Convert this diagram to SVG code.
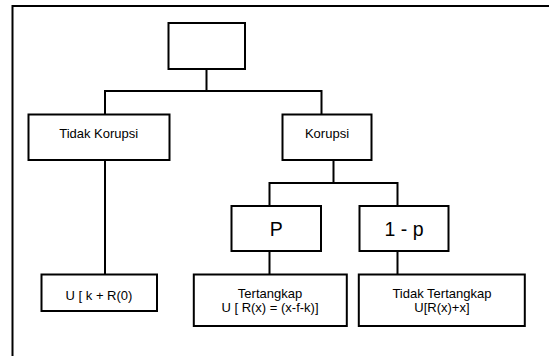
<svg xmlns="http://www.w3.org/2000/svg" width="549" height="356" viewBox="0 0 549 356">
<style>
.box{fill:#fff;stroke:#000;stroke-width:2}
.ln{fill:none;stroke:#000;stroke-width:2}
.t{font-family:"Liberation Sans",Arial,sans-serif;font-size:13px;fill:#000;text-anchor:middle}
.tb{font-family:"Liberation Sans",Arial,sans-serif;font-size:19.5px;fill:#000;text-anchor:middle}
</style>
<rect width="549" height="356" fill="#fff"/>
<path class="ln" d="M12.5,356 V6 H549"/>
<g id="connectors">
<path class="ln" d="M206.5,69 V91 M105,114.5 V91 H321.5 V114.5"/>
<path class="ln" d="M105,160 V274.5"/>
<path class="ln" d="M333.5,160 V183 M269.5,206 V183 H397.5 V206"/>
<path class="ln" d="M269.5,251 V274.5 M397.5,251 V274.5"/>
</g>
<g id="root"><rect class="box" x="168.5" y="23" width="76.5" height="46"/></g>
<g id="tidak-korupsi"><rect class="box" x="28.5" y="114.5" width="141" height="45.5"/><text class="t" x="98.7" y="137.5">Tidak Korupsi</text></g>
<g id="korupsi"><rect class="box" x="282.5" y="114.5" width="89" height="45.5"/><text class="t" x="327" y="137.5">Korupsi</text></g>
<g id="p"><rect class="box" x="231.5" y="206" width="89.5" height="45"/><text class="tb" x="276.3" y="236">P</text></g>
<g id="one-minus-p"><rect class="box" x="359.5" y="206" width="89" height="45"/><text class="tb" x="404" y="236">1 - p</text></g>
<g id="u-k"><rect class="box" x="41.5" y="274.5" width="115.5" height="36.5"/><text class="t" x="99" y="299.5">U [ k + R(0)</text></g>
<g id="tertangkap"><rect class="box" x="193.8" y="274.5" width="153" height="51.5"/><text class="t" x="270" y="297.5">Tertangkap</text><text class="t" x="270" y="312">U [ R(x) = (x-f-k)]</text></g>
<g id="tidak-tertangkap"><rect class="box" x="358.8" y="274.5" width="166" height="51.5"/><text class="t" x="441.9" y="297.5">Tidak Tertangkap</text><text class="t" x="441.9" y="312">U[R(x)+x]</text></g>
</svg>
